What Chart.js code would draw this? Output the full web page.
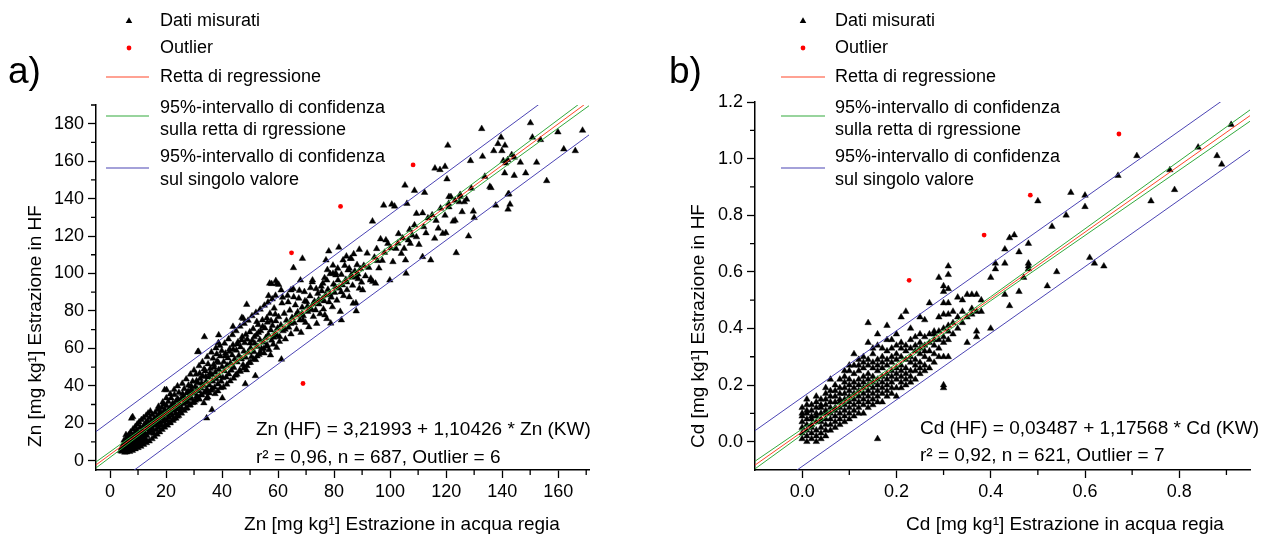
<!DOCTYPE html>
<html>
<head>
<meta charset="utf-8">
<script src="https://cdn.jsdelivr.net/npm/chart.js@4.4.1/dist/chart.umd.min.js"></script>
<style>
html, body { margin: 0; padding: 0; background: #fff; }
#wrap { position: relative; width: 1271px; height: 537px; overflow: hidden; }
canvas { position: absolute; top: 0; }
</style>
</head>
<body>
<div id="wrap">
  <canvas id="panelA" width="636" height="537" style="left:0"></canvas>
  <canvas id="panelB" width="635" height="537" style="left:636px"></canvas>
</div>
<script>
// ---- Zn (panel a) ----
const znMeasured = [
  [3.8,5.2],[4.1,6.8],[4.3,4.9],[4.6,8.1],[4.9,5.8],[5.2,7.3],[5.4,9.6],[5.6,5.1],[5.9,6.4],[6.1,8.8],
  [6.3,11.2],[6.5,7.1],[6.7,5.6],[6.9,9.9],[7.1,12.8],[7.2,6.3],[7.4,8.4],[7.6,10.6],[7.8,7.4],[8.0,13.1],
  [8.1,9.2],[8.3,6.9],[8.5,11.5],[8.6,8.1],[8.8,14.6],[9.0,10.3],[9.1,7.8],[9.3,12.4],[9.5,16.2],[9.6,9.1],
  [9.8,11.1],[10.0,13.8],[10.1,8.6],[10.3,15.1],[10.5,10.4],[10.6,12.6],[10.8,17.9],[11.0,9.7],[11.1,14.2],[11.3,11.6],
  [11.5,16.4],[11.6,13.2],[11.8,10.5],[12.0,18.6],[12.1,15.3],[12.3,12.2],[12.5,14.1],[12.7,20.1],[12.8,11.4],[13.0,16.8],
  [5.7,13.8],[8.1,23.4],[7.7,22.6],
  [5.0,10.8],[5.8,11.9],[6.6,13.6],[7.3,15.2],[8.2,16.8],[9.0,18.1],[9.7,19.4],[10.4,20.6],[11.2,21.8],[12.0,22.9],
  [12.9,24.1],[13.6,25.3],[14.4,26.4],[6.0,4.6],[7.0,4.8],[8.0,5.4],[9.0,6.2],[10.0,6.9],[11.0,7.6],[12.0,8.6],
  [13.0,9.5],[14.0,10.4],[15.0,11.6],[5.3,4.4],[6.8,7.9],[7.9,9.8],[9.4,13.4],[10.9,12.5],[11.9,13.9],[13.3,18.7],
  [14.6,20.2],[16.2,22.1],[15.9,12.8],[16.8,14.1],[17.7,15.3],[18.6,16.6],[19.5,17.8],[20.5,18.9],[21.5,20.1],[22.5,21.4],
  [23.5,22.6],[24.5,24.0],[17.3,28.9],[18.8,31.2],[20.1,33.4],[21.5,35.6],[22.9,37.9],[24.1,39.8],
  [13.2,13.4],[13.4,21.2],[13.6,17.5],[13.8,15.2],[14.0,19.6],[14.2,22.8],[14.3,14.8],[14.5,18.3],[14.7,16.1],[14.9,21.0],
  [15.1,24.5],[15.2,17.2],[15.4,19.9],[15.6,14.6],[15.8,22.4],[16.0,18.8],[16.1,25.6],[16.3,20.7],[16.5,16.4],[16.7,23.3],
  [16.9,19.2],[17.0,27.1],[17.2,21.6],[17.4,17.6],[17.6,24.6],[17.8,20.3],[18.0,26.2],[18.1,22.7],[18.3,18.9],[18.5,28.4],
  [18.7,23.9],[18.9,20.8],[19.0,25.3],[19.2,30.1],[19.4,22.1],[19.6,27.2],[19.8,19.4],[20.0,24.4],[20.2,29.3],[20.4,21.7],
  [20.6,26.1],[20.8,31.6],[21.0,23.2],[21.2,27.8],[21.4,20.6],[21.6,25.4],[21.8,33.4],[22.0,28.9],[22.2,24.1],[22.4,30.6],
  [22.6,22.3],[22.8,26.7],[23.0,35.2],[23.2,29.6],[23.4,25.2],[23.6,31.9],[23.8,27.6],[24.0,23.6],[24.2,33.1],[24.4,28.8],
  [24.6,36.4],[24.8,30.4],[25.0,26.3],[20.2,37.8],[19.5,37.8],
  [25.3,32.6],[25.6,28.1],[25.9,35.7],[26.2,30.3],[26.5,38.4],[26.8,33.2],[27.1,27.9],[27.4,36.1],[27.7,31.4],[28.0,40.2],
  [28.3,34.6],[28.6,29.8],[28.9,37.8],[29.2,33.1],[29.5,42.3],[29.8,35.9],[30.1,31.2],[30.4,39.4],[30.7,46.1],[31.0,34.5],
  [31.3,41.6],[31.6,37.2],[31.9,32.8],[32.2,43.8],[32.5,38.6],[32.8,35.1],[33.1,45.2],[33.4,40.1],[33.7,36.4],[34.0,47.9],
  [34.3,42.2],[34.6,38.1],[34.9,33.9],[35.2,44.6],[35.5,40.3],[35.8,49.2],[36.1,37.6],[36.4,45.9],[36.7,42.4],[37.0,51.3],
  [37.3,39.1],[37.6,47.2],[37.9,43.7],[38.2,53.1],[38.5,40.9],[38.8,48.6],[39.1,45.2],[39.4,55.8],[39.7,42.3],[40.0,50.1],
  [25.5,25.3],[26.5,26.7],[27.5,28.1],[28.5,29.6],[29.5,30.9],[30.5,32.2],[31.5,33.6],[32.5,35.0],[33.5,30.8],[34.5,37.2],
  [35.5,36.1],[36.5,38.4],[37.5,35.7],[38.5,37.2],[39.5,38.9],[25.8,41.2],[27.2,43.5],[28.7,46.1],[30.0,48.3],[31.8,50.6],
  [33.0,52.7],[34.7,55.4],[36.2,57.9],[37.8,60.1],[39.2,61.4],[26.1,34.4],[27.9,37.1],[29.0,39.8],[30.9,42.6],[32.0,46.6],
  [33.6,48.9],[35.0,51.6],[36.8,54.6],[38.1,56.9],[39.9,58.7],[26.9,31.0],[28.1,33.4],[29.6,36.8],[31.1,38.3],[32.7,41.3],
  [34.2,44.9],[35.7,46.8],[37.2,49.9],[38.7,52.4],
  [31.3,58.1],[33.7,66.1],[38.7,62.9],[38.8,67.1],[31.6,58.3],[34.5,22.7],[36.4,27.2],[34.5,33.3],[40.1,33.4],
  [40.3,44.2],[40.6,52.8],[40.9,47.9],[41.2,57.3],[41.5,44.6],[41.8,50.9],[42.1,54.8],[42.4,46.2],[42.7,59.6],[43.0,52.1],
  [43.3,48.3],[43.6,56.4],[43.9,61.8],[44.2,49.7],[44.5,54.2],[44.8,45.6],[45.1,58.9],[45.4,52.6],[45.7,63.4],[46.0,56.1],
  [46.3,48.2],[46.6,60.7],[46.9,54.3],[47.2,66.2],[47.5,51.2],[47.8,58.4],[48.1,62.9],[48.4,55.2],[48.7,48.4],[49.0,64.8],
  [49.3,57.9],[49.6,52.3],[49.9,68.7],[50.2,60.2],[50.5,55.4],[50.8,64.1],[51.1,70.4],[51.4,58.1],[51.7,62.6],[52.0,53.9],
  [52.3,67.2],[52.6,60.9],[52.9,72.6],[53.2,56.7],[53.5,64.5],[53.8,69.3],[54.1,59.8],[54.4,75.1],[54.7,63.2],[55.0,57.4],
  [55.3,70.8],[55.6,65.6],[55.9,61.1],[56.2,73.9],[56.5,67.4],[56.8,59.2],[57.1,78.6],[57.4,69.8],[57.7,64.3],[58.0,72.2],
  [58.3,62.1],[58.6,81.4],[58.9,67.8],[59.2,74.6],[59.5,60.4],[59.8,70.7],
  [40.5,39.2],[41.7,40.8],[42.9,42.5],[44.1,44.0],[45.3,46.1],[46.5,47.6],[47.7,49.3],[48.9,50.7],[50.1,52.4],[51.3,54.2],
  [52.5,55.8],[53.7,57.9],[54.9,59.8],[56.1,61.7],[57.3,56.4],[58.5,65.9],[59.7,66.8],[40.9,62.6],[42.3,64.9],[43.7,67.2],
  [45.0,69.3],[46.4,71.7],[47.9,73.2],[49.3,74.9],[50.7,77.3],[52.1,79.1],[53.6,80.8],[55.1,82.9],[56.4,84.6],[57.9,86.3],
  [59.1,88.2],[41.1,55.9],[42.6,58.2],[44.0,59.4],[45.5,62.2],[47.0,64.4],[48.5,67.4],[50.0,62.8],[51.5,66.1],[53.0,68.4],
  [54.5,71.6],[56.0,76.2],[57.5,74.7],[59.0,78.2],
  [47.6,75.9],[48.8,83.4],[43.9,71.6],[47.1,76.4],[52.4,74.2],[48.3,41.0],[51.9,45.3],
  [57.7,94.5],[59.5,94.5],[57.0,94.7],[59.2,96.1],[60.2,94.1],[56.6,88.1],[61.2,54.1],
  [60.2,76.8],[60.6,66.2],[61.0,72.4],[61.4,84.1],[61.8,69.3],[62.2,78.6],[62.6,64.9],[63.0,74.9],[63.4,88.2],[63.8,71.2],
  [64.2,80.3],[64.6,67.6],[65.0,76.4],[65.4,91.8],[65.8,73.6],[66.2,83.1],[66.6,70.2],[67.0,79.4],[67.4,86.7],[67.8,75.1],
  [68.2,68.4],[68.6,81.9],[69.0,77.3],[69.4,90.2],[69.8,73.8],[70.2,84.8],[70.6,79.6],[71.0,71.4],[71.4,87.9],[71.8,81.2],
  [72.2,95.4],[72.6,76.9],[73.0,85.1],[73.4,80.4],[73.8,73.2],[74.2,89.3],[74.6,83.6],[75.0,78.4],[75.4,93.1],[75.8,86.2],
  [76.2,80.9],[76.6,97.6],[77.0,88.4],[77.4,75.8],[77.8,91.4],[78.2,84.7],[78.6,99.8],[79.0,87.3],[79.4,82.1],[79.8,94.2],
  [80.2,89.8],[80.6,100.2],[81.0,85.6],[81.4,96.4],[81.8,92.1],[82.2,79.6],[82.6,99.4],[83.0,93.8],[83.4,88.1],[83.8,104.2],
  [84.2,96.7],[84.6,91.2],[85.0,101.8],[85.4,87.4],[85.8,107.9],[86.2,98.3],[86.6,93.6],[87.0,110.4],[87.4,101.2],[87.8,84.2],
  [88.2,104.6],[88.6,97.1],[89.0,112.8],[89.4,102.4],[89.8,95.3],
  [60.5,63.6],[62.5,70.1],[64.5,73.2],[66.5,77.9],[68.5,78.6],[70.5,82.4],[72.5,83.7],[74.5,86.1],[76.5,85.3],[78.5,88.9],
  [80.5,92.8],[82.5,90.1],[84.5,95.4],[86.5,97.9],[88.5,99.6],[61.6,87.2],[63.6,84.7],[65.6,87.4],[67.6,90.9],[69.6,85.3],
  [71.6,92.3],[73.6,91.8],[75.6,90.6],[77.6,101.9],[79.6,104.3],
  [61.1,91.1],[64.6,91.1],[65.5,103.0],[68.0,96.4],[68.7,108.0],[72.3,96.4],[76.0,94.7],[77.4,96.4],[79.6,100.0],[80.6,99.1],
  [81.3,102.7],[78.1,111.9],[81.7,113.9],[77.1,107.1],[83.2,107.1],[84.4,109.2],[86.1,108.0],[85.4,102.7],[86.1,99.1],[87.9,98.2],
  [89.0,92.0],[90.2,91.1],[86.8,84.0],[87.9,79.9],[82.6,75.1],[78.8,73.4],[76.7,77.8],[71.6,80.5],[68.9,75.1],
  [90.6,104.2],[91.2,98.6],[91.8,110.8],[92.4,103.1],[93.0,96.4],[93.7,127.9],[93.1,97.3],[93.8,95.6],[94.8,94.7],[94.4,108.6],
  [95.2,113.2],[96.0,102.8],[96.6,118.4],[97.2,106.9],[97.7,136.4],[98.5,117.8],[99.2,116.0],[99.9,96.4],[100.6,136.9],[101.6,135.9],
  [101.0,106.2],[102.1,113.3],[103.0,121.2],[104.0,110.6],[105.0,113.3],[105.5,107.1],[105.7,100.0],[106.0,137.3],[106.5,117.8],[107.2,116.0],
  [107.9,120.4],[108.7,125.8],[109.4,119.5],[109.4,132.0],[110.3,115.4],[111.6,132.3],[111.6,108.9],[112.0,124.9],[112.8,121.6],[114.5,107.1],
  [115.9,118.7],[116.4,128.3],[117.2,124.1],[118.8,121.3],[119.9,121.7],[119.6,131.0],[120.9,137.3],[121.7,140.9],[121.0,135.5],[122.5,127.9],
  [123.2,128.4],[123.2,139.0],[123.6,111.0],[124.7,138.2],[125.7,132.9],[126.5,138.2],[127.3,139.6],[128.0,119.9],[129.7,133.2],[130.0,129.8],
  [95.5,106.8],[98.0,111.2],[100.2,113.6],[102.8,116.1],[104.5,118.9],[107.0,123.4],[113.5,129.6],[115.0,131.2],[118.0,134.8],[125.0,142.1],
  [105.3,147.1],[108.7,144.3],[112.3,143.2],[116.0,156.2],[117.8,155.4],[119.6,157.1],[120.6,168.4],[120.3,150.4],[121.0,141.0],[125.0,141.0],
  [128.7,160.2],[129.0,145.5],[132.7,177.3],[133.0,162.5],[133.8,151.8],[135.6,146.4],[137.0,165.5],[138.5,169.3],[139.6,172.7],[141.0,168.4],
  [139.9,165.5],[140.4,160.2],[141.3,158.9],[142.0,160.7],[143.4,163.4],[144.3,162.0],[140.9,153.6],[144.3,152.3],[146.5,159.3],[148.4,153.6],
  [150.1,180.4],[150.8,172.7],[153.7,171.4],[152.3,159.3],[155.9,149.5],[159.9,175.5],[162.0,166.4],[166.1,165.5],[168.7,176.4],[142.4,142.5],
  [137.7,136.4],[142.1,142.3],[142.8,136.9],[142.1,134.3],[136.0,145.8]
];
const znOutliers = [[108.2,158.0],[82.3,135.8],[64.8,111.0],[68.9,41.2]];
const znFit = [3.21993, 1.10426];
const znConfX = [-5, 20, 45, 100, 171];
const znConfUpper = [-0.7, 26.3, 53.7, 114.9, 194.5];
const znConfLower = [-3.9, 24.3, 52.1, 112.4, 189.6];
const znPredX = [-5, 171];
const znPredUpper = [15.5, 210.1];
const znPredLower = [-20.1, 174.0];
const znXMajor = [0, 20, 40, 60, 80, 100, 120, 140, 160];
const znXMinor = [10, 30, 50, 70, 90, 110, 130, 150, 170];
const znYMajor = [0, 20, 40, 60, 80, 100, 120, 140, 160, 180];
const znYMinor = [10, 30, 50, 70, 90, 110, 130, 150, 170, 190];
const znXLabels = ['0', '20', '40', '60', '80', '100', '120', '140', '160'];
const znYLabels = ['0', '20', '40', '60', '80', '100', '120', '140', '160', '180'];

// ---- Cd (panel b): measured values grouped by x column ----
const cdColX = [0.00,0.01,0.02,0.03,0.04,0.05,0.06,0.07,0.08,0.09,0.10,0.11,0.12,0.13,0.14,0.15,0.16,0.17,0.18,0.19,
  0.20,0.21,0.22,0.23,0.24,0.25,0.26,0.27,0.28,0.29,0.30,0.31,0.32,0.33,0.34,0.35,0.36,0.37,0.38,0.40,
  0.41,0.43,0.44,0.45,0.46,0.47,0.48,0.50,0.52,0.53,0.54,0.56,0.57,0.60,0.61,0.62,0.64,0.67,0.71,0.74,
  0.78,0.79,0.84,0.88,0.89,0.91];
const cdColY = [
  [0.01,0.03,0.05,0.07,0.09,0.10,0.12],
  [0.00,0.02,0.04,0.06,0.08,0.10,0.11,0.13,0.15],
  [0.01,0.03,0.05,0.06,0.08,0.09,0.11,0.13],
  [0.00,0.02,0.04,0.07,0.09,0.10,0.12,0.14,0.16],
  [0.01,0.03,0.05,0.07,0.08,0.10,0.12,0.13,0.15],
  [0.02,0.04,0.06,0.08,0.10,0.11,0.13,0.15,0.17,0.19],
  [0.04,0.06,0.08,0.10,0.12,0.14,0.16,0.18,0.22],
  [0.05,0.07,0.09,0.11,0.12,0.14,0.16,0.18,0.20],
  [0.06,0.08,0.10,0.12,0.14,0.15,0.17,0.19,0.22],
  [0.07,0.09,0.11,0.13,0.15,0.17,0.19,0.21,0.23,0.25],
  [0.08,0.10,0.12,0.14,0.16,0.18,0.20,0.22,0.25,0.27],
  [0.09,0.11,0.13,0.15,0.17,0.19,0.21,0.24,0.27,0.31],
  [0.10,0.12,0.14,0.16,0.18,0.20,0.22,0.25,0.27,0.29],
  [0.10,0.13,0.15,0.17,0.19,0.21,0.23,0.26,0.28,0.30],
  [0.12,0.14,0.16,0.18,0.20,0.22,0.24,0.27,0.29,0.35,0.42],
  [0.13,0.15,0.17,0.19,0.21,0.23,0.26,0.28,0.31,0.33],
  [0.01,0.14,0.16,0.18,0.20,0.22,0.25,0.27,0.29,0.34,0.38],
  [0.14,0.17,0.19,0.21,0.23,0.26,0.28,0.30,0.33],
  [0.16,0.18,0.20,0.22,0.24,0.27,0.29,0.32,0.36,0.41],
  [0.17,0.19,0.21,0.23,0.25,0.28,0.30,0.33,0.36],
  [0.16,0.19,0.22,0.24,0.26,0.29,0.31,0.34,0.38],
  [0.19,0.21,0.23,0.25,0.27,0.30,0.33,0.35,0.44],
  [0.20,0.22,0.24,0.26,0.29,0.32,0.34,0.46],
  [0.21,0.23,0.25,0.28,0.30,0.33,0.36,0.40],
  [0.22,0.25,0.27,0.29,0.32,0.34,0.37],
  [0.24,0.26,0.28,0.31,0.33,0.35,0.38,0.44],
  [0.25,0.27,0.30,0.32,0.34,0.37,0.43],
  [0.26,0.29,0.32,0.35,0.38,0.49],
  [0.28,0.31,0.34,0.36,0.38,0.39],
  [0.30,0.33,0.36,0.39,0.44,0.58],
  [0.19,0.20,0.30,0.35,0.37,0.40,0.45,0.49,0.53,0.55],
  [0.30,0.36,0.39,0.41,0.45,0.49,0.54,0.59,0.62],
  [0.38,0.42,0.46],
  [0.40,0.44,0.51],
  [0.42,0.46,0.50],
  [0.35,0.44,0.52],
  [0.45,0.47,0.52],
  [0.37,0.39,0.46,0.52],
  [0.46,0.50],
  [0.40,0.58],
  [0.61,0.63],
  [0.52,0.63,0.68],
  [0.48,0.72],
  [0.73],
  [0.53,0.67],
  [0.58],
  [0.61,0.62,0.63,0.70],
  [0.85],
  [0.55],
  [0.76],
  [0.60],
  [0.80],
  [0.88],
  [0.83,0.87],
  [0.65],
  [0.63],
  [0.62],
  [0.94],
  [1.01],
  [0.85],
  [0.96],
  [0.89],
  [1.04],
  [1.01],
  [0.98],
  [1.12]
];
const cdOutliers = [[0.227,0.57],[0.386,0.73],[0.484,0.871],[0.672,1.087]];
const cdFit = [0.03487, 1.17568];
const cdConfX = [-0.1, 0.1, 0.4, 0.95];
const cdConfUpper = [-0.069, 0.159, 0.512, 1.172];
const cdConfLower = [-0.096, 0.146, 0.498, 1.132];
const cdPredX = [-0.1, 0.95];
const cdPredUpper = [0.039, 1.274];
const cdPredLower = [-0.205, 1.030];
const cdXMajor = [0, 0.2, 0.4, 0.6, 0.8];
const cdXMinor = [0.1, 0.3, 0.5, 0.7, 0.9];
const cdYMajor = [0, 0.2, 0.4, 0.6, 0.8, 1.0, 1.2];
const cdYMinor = [0.1, 0.3, 0.5, 0.7, 0.9, 1.1];
const cdXLabels = ['0.0', '0.2', '0.4', '0.6', '0.8'];
const cdYLabels = ['0.0', '0.2', '0.4', '0.6', '0.8', '1.0', '1.2'];

const legendLabels = ['Dati misurati', 'Outlier', 'Retta di regressione',
  ['95%-intervallo di confidenza', 'sulla retta di rgressione'],
  ['95%-intervallo di confidenza', 'sul singolo valore']];

const FONT = '"Liberation Sans", Arial, sans-serif';
const RED_LINE = 'rgb(255,70,40)';
const GREEN_LINE = 'rgb(50,170,60)';
const BLUE_LINE = 'rgb(75,68,180)';

const pts = arr => arr.map(p => ({ x: p[0], y: p[1] }));
const zip = (xs, ys) => xs.map((x, i) => ({ x: x, y: ys[i] }));
const cols = (xs, yss) => xs.flatMap((x, i) => yss[i].map(y => ({ x: x, y: y })));

function tri(ctx, x, y, r) {
  ctx.beginPath();
  for (let k = 0; k < 3; k++) {
    const a = k * 2 * Math.PI / 3;
    ctx.lineTo(x + Math.sin(a) * r, y - Math.cos(a) * r);
  }
  ctx.closePath();
  ctx.fill();
}

function hline(ctx, x0, x1, y, color) {
  ctx.beginPath();
  ctx.strokeStyle = color;
  ctx.lineWidth = 1.2;
  ctx.moveTo(x0, y);
  ctx.lineTo(x1, y);
  ctx.stroke();
}

function panel(id, p) {
  const line = (data, color) => ({
    type: 'line', data: data, showLine: true, borderColor: color, borderWidth: 1,
    pointRadius: 0, fill: false, order: 0
  });
  const fitLine = [p.xMin, p.xMax].map(x => ({ x: x, y: p.fit[0] + p.fit[1] * x }));

  const deco = {
    id: 'deco',
    afterDraw(chart) {
      const ctx = chart.ctx, ca = chart.chartArea;
      const xs = chart.scales.x, ys = chart.scales.y;
      ctx.save();
      // minor ticks
      ctx.strokeStyle = '#000'; ctx.lineWidth = 1.3;
      ctx.beginPath();
      p.xMinor.forEach(v => {
        const px = xs.getPixelForValue(v);
        ctx.moveTo(px, ca.bottom); ctx.lineTo(px, ca.bottom + 5);
      });
      p.yMinor.forEach(v => {
        const py = ys.getPixelForValue(v);
        ctx.moveTo(ca.left, py); ctx.lineTo(ca.left - 5, py);
      });
      ctx.stroke();

      // legend
      const L = p.legend;
      ctx.fillStyle = '#000';
      tri(ctx, L.sym, 21, 3.8);
      ctx.fillStyle = '#ff0000';
      ctx.beginPath(); ctx.arc(L.sym, 48, 2.4, 0, 2 * Math.PI); ctx.fill();
      hline(ctx, L.x0, L.x1, 77, RED_LINE);
      hline(ctx, L.x0, L.x1, 116, GREEN_LINE);
      hline(ctx, L.x0, L.x1, 168, BLUE_LINE);

      ctx.fillStyle = '#000';
      ctx.font = '18px ' + FONT;
      ctx.textBaseline = 'middle'; ctx.textAlign = 'left';
      ctx.fillText(legendLabels[0], L.text, 21);
      ctx.fillText(legendLabels[1], L.text, 48);
      ctx.fillText(legendLabels[2], L.text, 77);
      ctx.fillText(legendLabels[3][0], L.text, 108);
      ctx.fillText(legendLabels[3][1], L.text, 130);
      ctx.fillText(legendLabels[4][0], L.text, 157);
      ctx.fillText(legendLabels[4][1], L.text, 180);

      // panel letter
      ctx.font = '37px ' + FONT;
      ctx.textBaseline = 'alphabetic';
      ctx.fillText(p.letter, p.letterX, 83);

      // equation
      ctx.font = '19px ' + FONT;
      ctx.textBaseline = 'middle';
      ctx.fillText(p.eq[0], p.eqX, p.eqY[0]);
      ctx.fillText(p.eq[1], p.eqX, p.eqY[1]);

      // axis titles
      ctx.textAlign = 'center';
      ctx.fillText(p.xTitle, p.xTitlePos[0], p.xTitlePos[1]);
      ctx.translate(p.yTitlePos[0], p.yTitlePos[1]);
      ctx.rotate(-Math.PI / 2);
      ctx.fillText(p.yTitle, 0, 0);
      ctx.restore();
    }
  };

  const axis = (min, max, major, labels, isY) => ({
    type: 'linear', min: min, max: max,
    afterBuildTicks: s => { s.ticks = major.map(v => ({ value: v })); },
    afterFit: s => { if (isY) s.width = p.yAxisW; else s.height = p.xAxisH; },
    grid: { display: true, drawOnChartArea: false, drawTicks: true, tickLength: 8, tickColor: '#000', tickWidth: 1.3 },
    border: { display: true, color: '#000', width: 1.5 },
    ticks: {
      color: '#000', font: { family: FONT, size: 18 }, padding: isY ? 4 : 3,
      maxRotation: 0, autoSkip: false,
      callback: (v, i) => labels[i]
    }
  });

  new Chart(document.getElementById(id), {
    type: 'scatter',
    data: {
      datasets: [
        line(fitLine, RED_LINE),
        line(zip(p.confX, p.confU), GREEN_LINE),
        line(zip(p.confX, p.confL), GREEN_LINE),
        line(zip(p.predX, p.predU), BLUE_LINE),
        line(zip(p.predX, p.predL), BLUE_LINE),
        { data: p.out, pointStyle: 'circle', pointRadius: 2.4, backgroundColor: '#ff0000', borderWidth: 0, order: 1 },
        { data: p.meas, pointStyle: 'triangle', pointRadius: 3.8, backgroundColor: '#000', borderColor: '#000', borderWidth: 0.4, order: 2 }
      ]
    },
    options: {
      responsive: false, animation: false, devicePixelRatio: 1,
      layout: { padding: { top: p.top, right: p.right, left: 0, bottom: 0 } },
      plugins: { legend: { display: false }, tooltip: { enabled: false } },
      scales: {
        x: axis(p.xMin, p.xMax, p.xMajor, p.xLabels, false),
        y: axis(p.yMin, p.yMax, p.yMajor, p.yLabels, true)
      }
    },
    plugins: [deco]
  });
}

panel('panelA', {
  meas: pts(znMeasured), out: pts(znOutliers), fit: znFit,
  confX: znConfX, confU: znConfUpper, confL: znConfLower,
  predX: znPredX, predU: znPredUpper, predL: znPredLower,
  xMin: -5, xMax: 171, yMin: -5, yMax: 190,
  xMajor: znXMajor, xMinor: znXMinor, yMajor: znYMajor, yMinor: znYMinor,
  xLabels: znXLabels, yLabels: znYLabels,
  top: 105, right: 47, yAxisW: 96, xAxisH: 67,
  legend: { x0: 106, x1: 149, sym: 129, text: 160 },
  letter: 'a)', letterX: 8,
  eq: ['Zn (HF) = 3,21993 + 1,10426 * Zn (KW)', 'r\u00B2 = 0,96, n = 687, Outlier = 6'],
  eqX: 256, eqY: [430, 458],
  xTitle: 'Zn [mg kg\u00B9] Estrazione in acqua regia', xTitlePos: [402, 525],
  yTitle: 'Zn [mg kg\u00B9] Estrazione in HF', yTitlePos: [36, 326]
});

panel('panelB', {
  meas: cols(cdColX, cdColY), out: pts(cdOutliers), fit: cdFit,
  confX: cdConfX, confU: cdConfUpper, confL: cdConfLower,
  predX: cdPredX, predU: cdPredUpper, predL: cdPredLower,
  xMin: -0.1, xMax: 0.95, yMin: -0.1, yMax: 1.2,
  xMajor: cdXMajor, xMinor: cdXMinor, yMajor: cdYMajor, yMinor: cdYMinor,
  xLabels: cdXLabels, yLabels: cdYLabels,
  top: 102, right: 21, yAxisW: 119, xAxisH: 67,
  legend: { x0: 145, x1: 189, sym: 167, text: 199 },
  letter: 'b)', letterX: 33,
  eq: ['Cd (HF) = 0,03487 + 1,17568 * Cd (KW)', 'r\u00B2 = 0,92, n = 621, Outlier = 7'],
  eqX: 284, eqY: [429, 456],
  xTitle: 'Cd [mg kg\u00B9] Estrazione in acqua regia', xTitlePos: [429, 525],
  yTitle: 'Cd [mg kg\u00B9] Estrazione in HF', yTitlePos: [63, 326]
});
</script>
</body>
</html>
